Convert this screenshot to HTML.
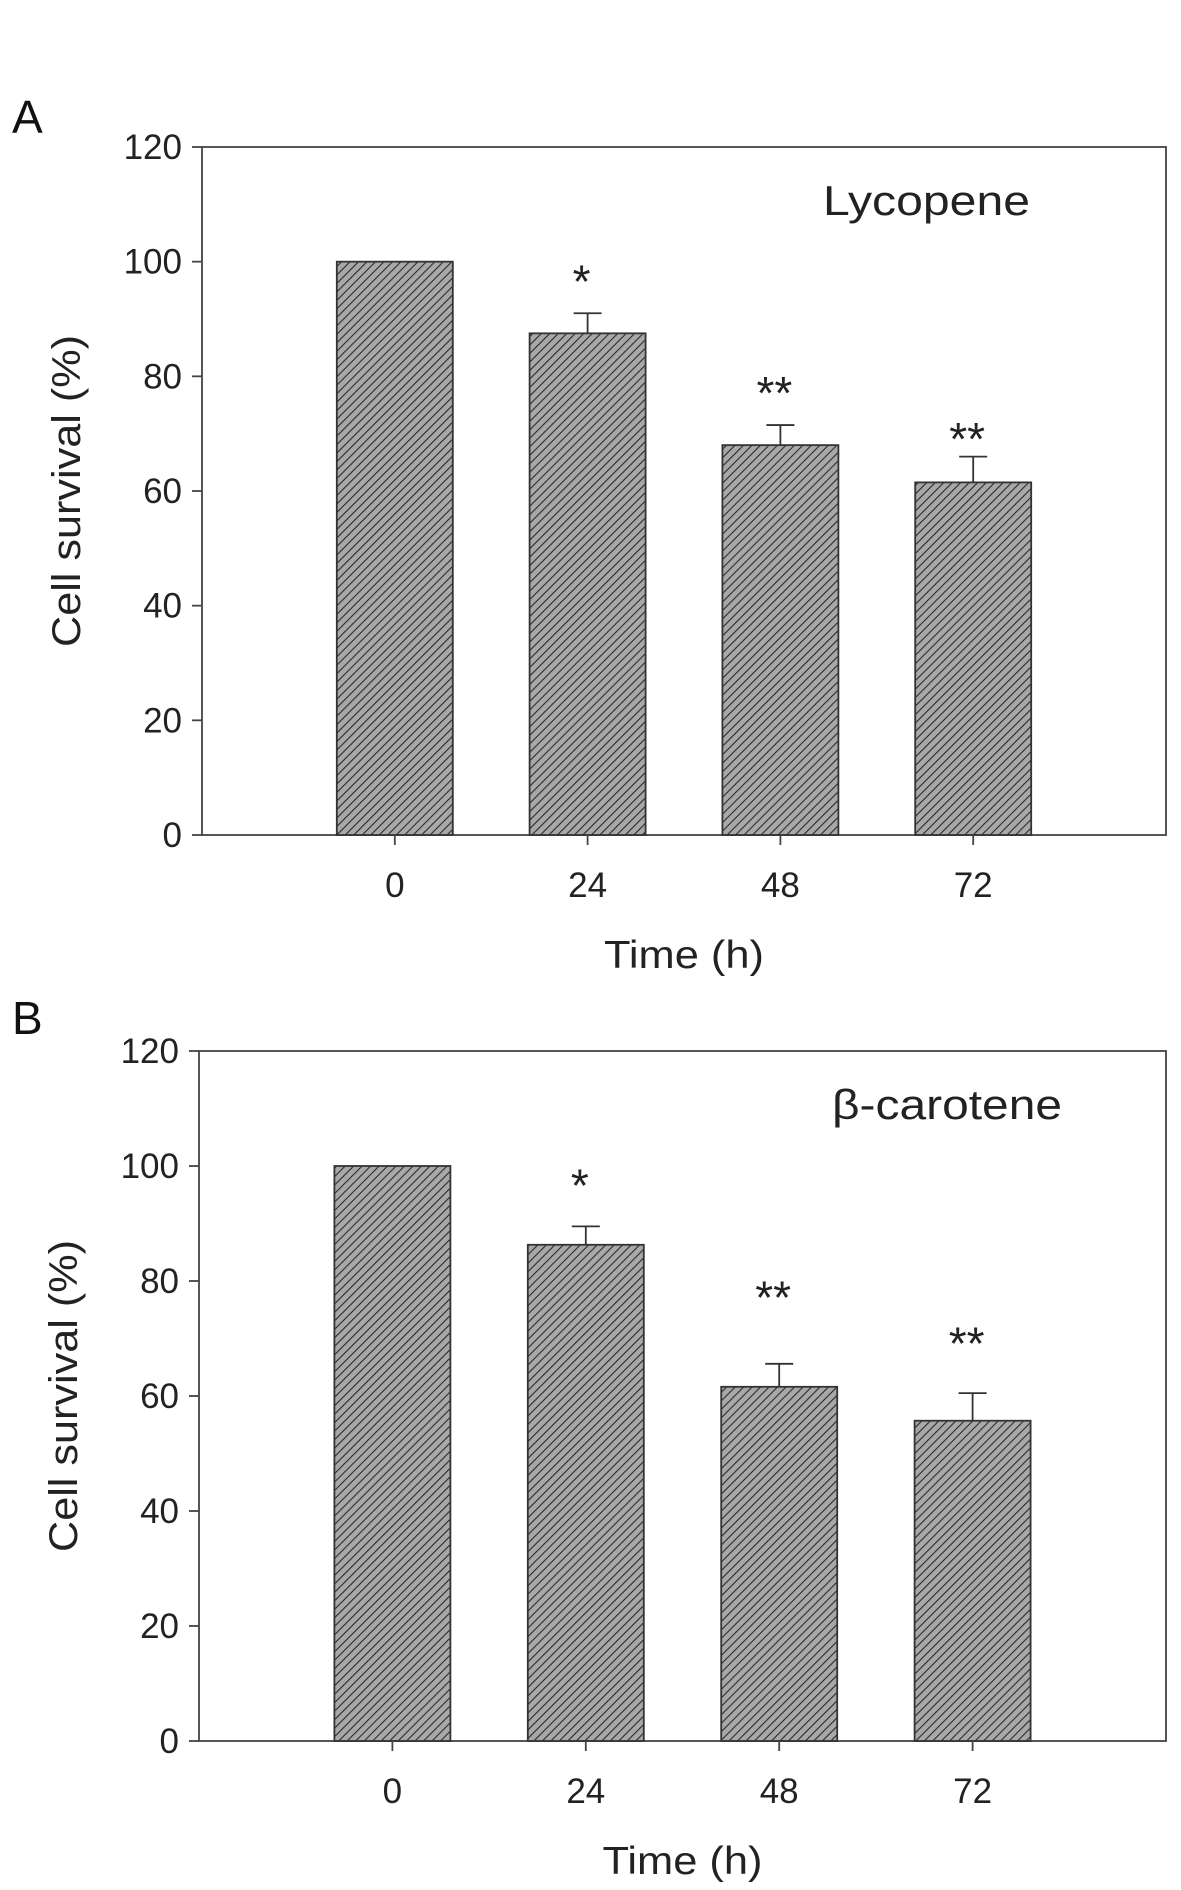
<!DOCTYPE html>
<html><head><meta charset="utf-8"><style>
html,body{margin:0;padding:0;background:#fff;}
svg{display:block;font-family:"Liberation Sans",Arial,sans-serif;}
</style></head><body>
<svg id="fig" width="1181" height="1890" viewBox="0 0 1181 1890">
<defs>
<pattern id="hatch" patternUnits="userSpaceOnUse" width="6" height="6" patternTransform="rotate(45)">
<rect width="6" height="6" fill="#a8a8a8"/>
<line x1="0" y1="0" x2="0" y2="6" stroke="#2a2a2a" stroke-width="2.2"/>
</pattern>
</defs>
</svg>
<script>
const categories = ["0","24","48","72"];
const lycopeneValues = [100, 87.5, 68, 61.5];
const lycopeneErrors = [0, 3.5, 3.5, 4.5];
const lycopeneStars = ["", "*", "**", "**"];
const lycopeneStarLevels = [0, 97.9, 78.5, 70.5];
const caroteneValues = [100, 86.3, 61.6, 55.7];
const caroteneErrors = [0, 3.2, 4.0, 4.8];
const caroteneStars = ["", "*", "**", "**"];
const caroteneStarLevels = [0, 98, 78.5, 70.5];
const yTicks = [0,20,40,60,80,100,120];

const NS = "http://www.w3.org/2000/svg";
const svg = document.getElementById('fig');
function mk(tag, attrs, parent){
  const e = document.createElementNS(NS, tag);
  for (const k in attrs) e.setAttribute(k, attrs[k]);
  (parent||svg).appendChild(e);
  return e;
}
function panel(opt){
  const g = mk('g', {});
  
  
  const L=opt.left,R=opt.right,T=opt.top,B=opt.bottom;
  const y = v => B - (v/120)*(B-T);
  const x = i => L + (i+1)*(R-L)/5;
  const bw = 116;
  const fr = mk('rect',{x:L,y:T,width:R-L,height:B-T,fill:'none',stroke:'#444','stroke-width':1.8},g);
  
  
  yTicks.forEach(t=>{
    const tl = mk('line',{x1:L-10,x2:L,y1:y(t),y2:y(t),stroke:'#444','stroke-width':1.8},g);
    
    
    const tx = mk('text',{x:L-20,y:y(t)+12,'text-anchor':'end','font-size':35,fill:'#222'},g);
    tx.textContent = t;
    
    
  });
  categories.forEach((c,i)=>{
    const v = opt.values[i], e = opt.errors[i], cx = x(i);
    if (e>0){
      const el = mk('path',{d:`M${cx},${y(v)} V${y(v+e)} M${cx-14},${y(v+e)} H${cx+14}`,stroke:'#333','stroke-width':1.8,fill:'none'},g);
      
      
    }
    const r = mk('rect',{x:cx-bw/2,y:y(v),width:bw,height:B-y(v),fill:'url(#hatch)',stroke:'#333','stroke-width':1.8},g);
    
    
    const tk = mk('line',{x1:cx,x2:cx,y1:B,y2:B+10,stroke:'#444','stroke-width':1.8},g);
    
    
    const lb = mk('text',{x:cx,y:B+62,'text-anchor':'middle','font-size':35,fill:'#222'},g);
    lb.textContent = c;
    
    
    if (opt.stars[i]){
      const s = mk('text',{x:cx-6,y:y(opt.starLevels[i])+24,'text-anchor':'middle','font-size':46,fill:'#222'},g);
      s.textContent = opt.stars[i];
      
      
    }
  });
  const xt = mk('text',{x:(L+R)/2,y:B+133,'text-anchor':'middle','font-size':39,fill:'#222',textLength:160,lengthAdjust:'spacingAndGlyphs'},g);
  xt.textContent='Time (h)';
  
  
  const yc=(T+B)/2;
  const yt = mk('text',{x:opt.ylabX,y:yc,'text-anchor':'middle','font-size':40,fill:'#222',transform:`rotate(-90 ${opt.ylabX} ${yc})`,textLength:312,lengthAdjust:'spacingAndGlyphs'},g);
  yt.textContent='Cell survival (%)';
  
  
  const ti = mk('text',{x:opt.titleX,y:T+68,'font-size':42,fill:'#222',textLength:opt.titleW,lengthAdjust:'spacingAndGlyphs'},g);
  ti.textContent=opt.title;
  
  
  const pl = mk('text',{x:12,y:opt.panelY,'font-size':46,fill:'#111'},g);
  pl.textContent=opt.panel;
  
  
}
panel({name:'panel-a-lycopene',left:202,right:1166,top:147,bottom:835,values:lycopeneValues,errors:lycopeneErrors,stars:lycopeneStars,starLevels:lycopeneStarLevels,ylabX:80,titleX:823,titleW:207,title:'Lycopene',panel:'A',panelY:133});
panel({name:'panel-b-carotene',left:199,right:1166,top:1051,bottom:1741,values:caroteneValues,errors:caroteneErrors,stars:caroteneStars,starLevels:caroteneStarLevels,ylabX:77,titleX:832,titleW:230,title:'β-carotene',panel:'B',panelY:1034});
</script>
</body></html>
